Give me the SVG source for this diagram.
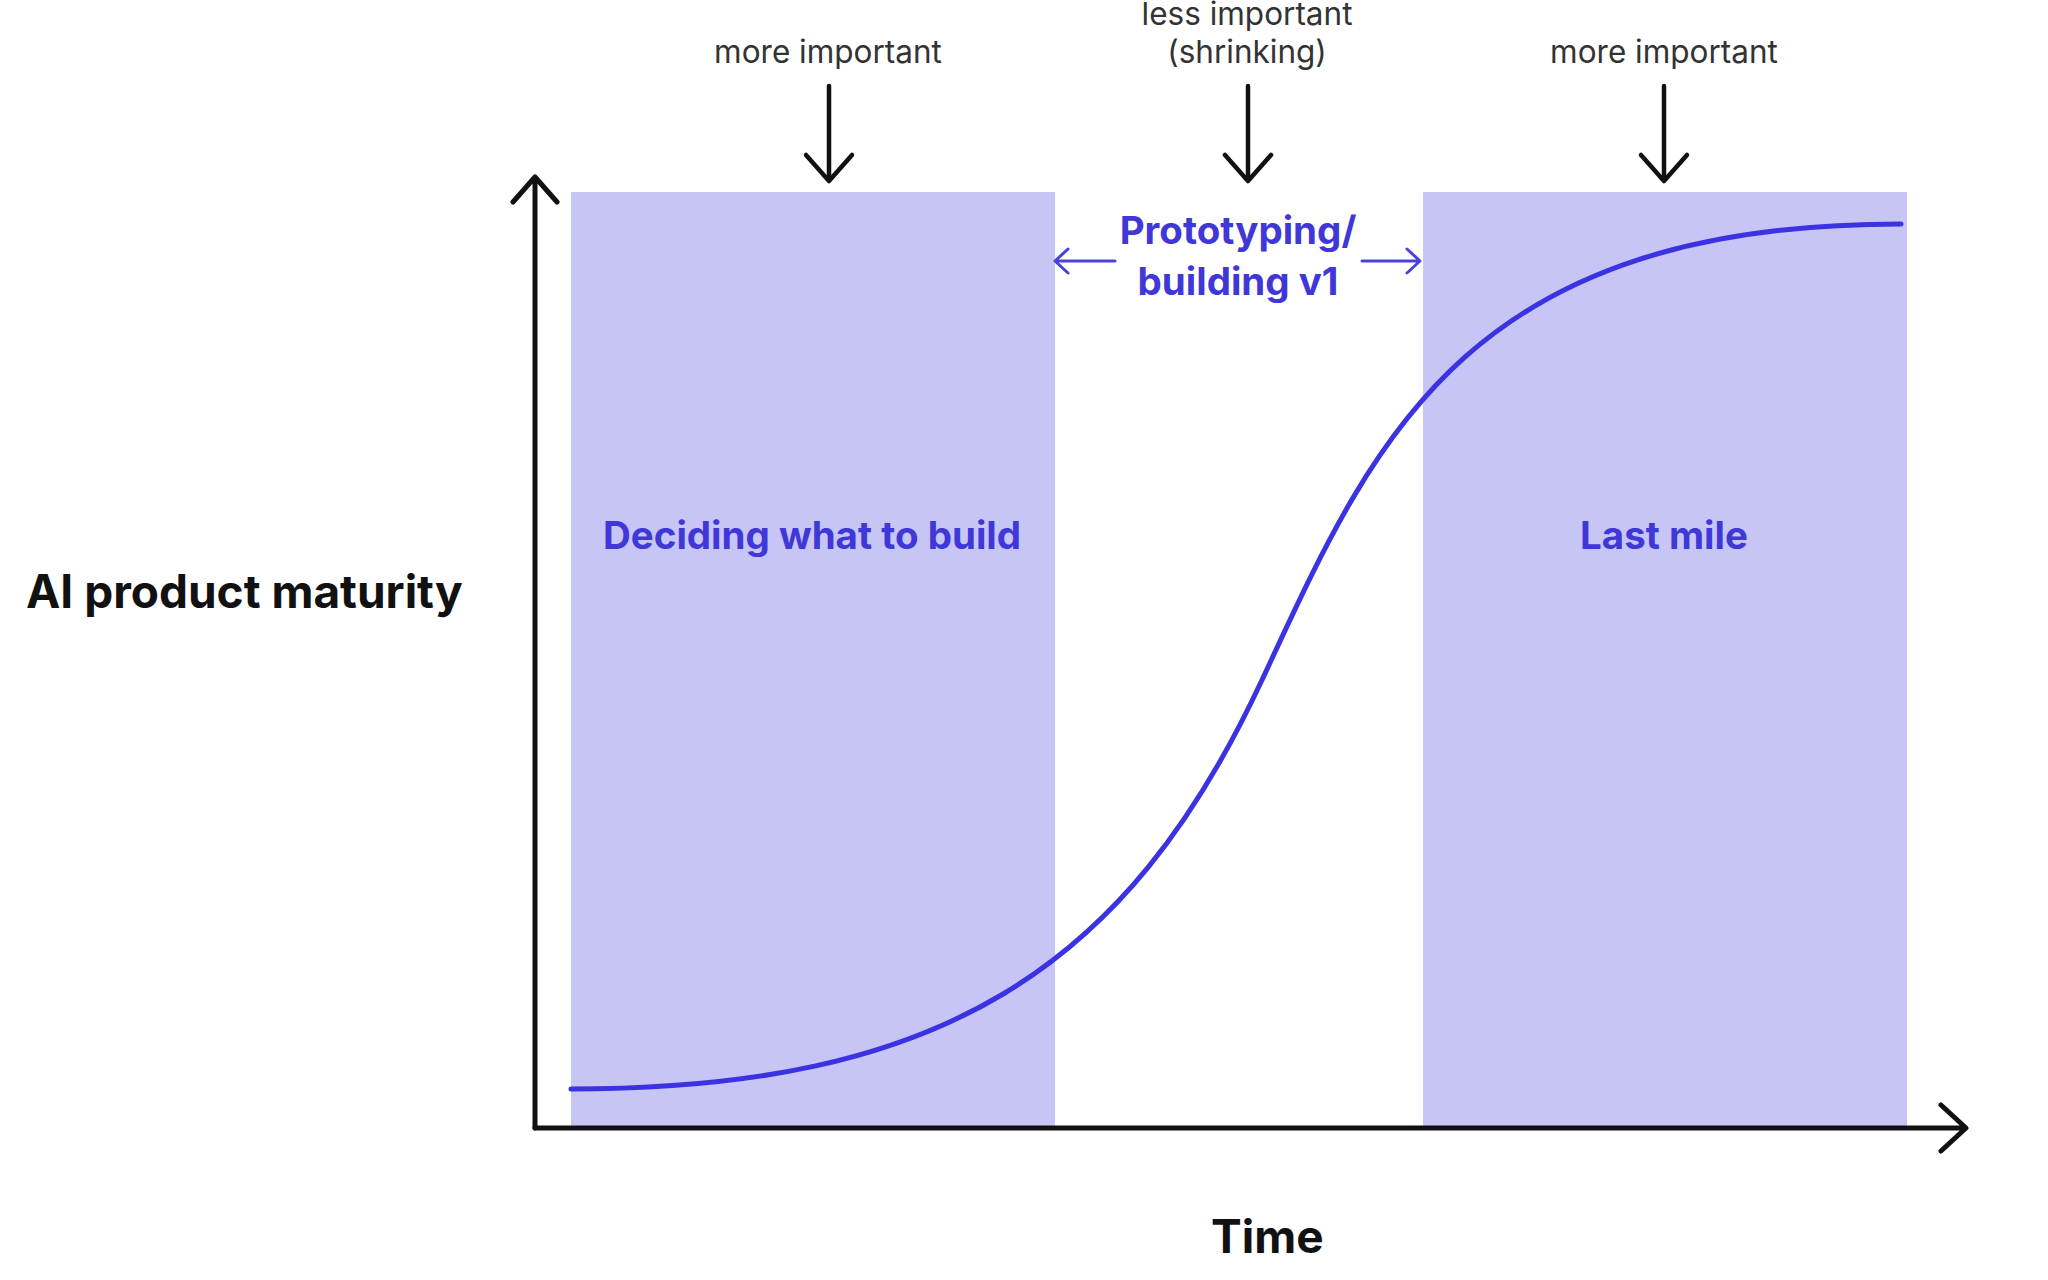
<svg xmlns="http://www.w3.org/2000/svg" width="2048" height="1280" viewBox="0 0 2048 1280">
  <style>
    .band { fill: #c6c5f5; }
    .phase { font-family: Inter, "Liberation Sans", sans-serif; font-weight: 700; font-size: 38.5px; fill: #3f37d8; text-anchor: middle; }
    .note { font-family: Inter, "Liberation Sans", sans-serif; font-weight: 400; font-size: 31.5px; fill: #333333; text-anchor: middle; }
    .axislabel { font-family: Inter, "Liberation Sans", sans-serif; font-weight: 700; font-size: 46px; fill: #111111; }
    .axis { stroke: #111111; stroke-width: 5; fill: none; stroke-linecap: round; stroke-linejoin: round; }
    .down { stroke: #111111; stroke-width: 4.5; fill: none; stroke-linecap: round; stroke-linejoin: round; }
    .bluearrow { stroke: #4a43da; stroke-width: 3; fill: none; stroke-linecap: round; stroke-linejoin: round; }
    .curve { stroke: #3b33e2; stroke-width: 5; fill: none; stroke-linecap: round; }
  </style>
  <rect width="2048" height="1280" fill="#ffffff"/>

  <g id="band-deciding">
    <rect class="band" x="571" y="192" width="484" height="934"/>
    <text class="phase" x="812" y="549">Deciding what to build</text>
  </g>

  <g id="band-lastmile">
    <rect class="band" x="1423" y="192" width="484" height="934"/>
    <text class="phase" x="1664" y="549">Last mile</text>
  </g>

  <g id="label-prototyping">
    <text class="phase" x="1238" y="244">Prototyping/</text>
    <text class="phase" x="1238" y="295">building v1</text>
  </g>

  <g id="y-axis-label">
    <text class="axislabel" x="26" y="608">AI product maturity</text>
  </g>
  <g id="x-axis-label">
    <text class="axislabel" x="1211" y="1253">Time</text>
  </g>

  <g id="note-left">
    <text class="note" x="828" y="63">more important</text>
  </g>
  <g id="note-middle">
    <text class="note" x="1247" y="25">less important</text>
    <text class="note" x="1247" y="63">(shrinking)</text>
  </g>
  <g id="note-right">
    <text class="note" x="1664" y="63">more important</text>
  </g>

  <g id="curve">
    <path class="curve" d="M571,1089 C938,1089 1126,972 1262,680 C1372,443.5 1462,224 1901,224"/>
  </g>

  <g id="connectors">
    <path class="axis" d="M535,1128 V177 M513,202 L535,177 L557,202"/>
    <path class="axis" d="M535,1128 H1965 M1941,1105 L1966,1128 L1941,1151"/>
    <path class="down" d="M829,86 V180 M806,155 L829,181 L852,155"/>
    <path class="down" d="M1248,86 V180 M1225,155 L1248,181 L1271,155"/>
    <path class="down" d="M1664,86 V180 M1641,155 L1664,181 L1687,155"/>
    <path class="bluearrow" d="M1115,261 H1055 M1068,249 L1055,261 L1068,273"/>
    <path class="bluearrow" d="M1362,261 H1420 M1407,249 L1420,261 L1407,273"/>
  </g>
</svg>
